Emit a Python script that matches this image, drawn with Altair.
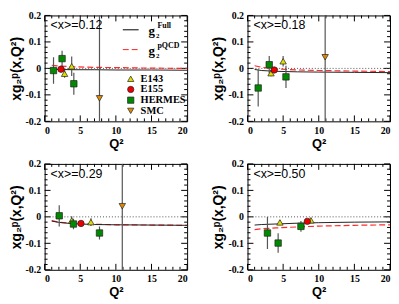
import altair as alt
import pandas as pd

W, H = 144, 107
GAP_X, GAP_Y = 61, 43
SERIF = "Liberation Serif"
SANS = "Liberation Sans, DejaVu Sans"

panel_labels = ["<x>=0.12", "<x>=0.18", "<x>=0.29", "<x>=0.50"]

curve_q2 = [1, 2, 4, 7, 10, 15, 20]
g2_full = [
    [-0.003, -0.004, -0.005, -0.005, -0.006, -0.006, -0.007],
    [-0.004, -0.008, -0.011, -0.013, -0.014, -0.015, -0.016],
    [-0.016, -0.021, -0.026, -0.029, -0.030, -0.031, -0.032],
    [-0.031, -0.029, -0.027, -0.024, -0.022, -0.020, -0.019],
]
g2_pqcd = [
    [0.012, 0.009, 0.006, 0.004, 0.003, 0.001, 0.000],
    [0.010, 0.004, -0.002, -0.006, -0.008, -0.010, -0.012],
    [-0.014, -0.020, -0.025, -0.028, -0.030, -0.031, -0.032],
    [-0.048, -0.045, -0.042, -0.038, -0.035, -0.032, -0.030],
]

experiments = ["E143", "E155", "HERMES", "SMC"]
exp_shapes = ["triangle-up", "circle", "square", "triangle-down"]
exp_colors = ["#dede00", "#ee0000", "#008a00", "#e08a00"]

e143_q2 = [[2.8, 3.8], [3.3, 5.0], [3.8, 6.5], [4.55, 8.9]]
e143_val = [[-0.020, 0.008], [-0.018, 0.027], [-0.014, -0.020], [-0.021, -0.013]]
e143_err = [[0.015, 0.037], [0.012, 0.020], [0.016, 0.015], [0.008, 0.008]]
e155_q2 = [[2.3], [3.75], [5.1], [8.4]]
e155_val = [[-0.003], [-0.006], [-0.025], [-0.017]]
e155_err = [[0.006], [0.006], [0.006], [0.006]]
hermes_q2 = [[1.25, 2.45, 4.1], [1.5, 3.05, 5.4], [2.05, 4.05, 7.7], [2.8, 4.3, 7.5]]
hermes_val = [[-0.008, 0.037, -0.058], [-0.074, 0.014, -0.032],
              [0.004, -0.027, -0.061], [-0.061, -0.099, -0.036]]
hermes_err = [[0.050, 0.030, 0.042], [0.070, 0.033, 0.042],
              [0.040, 0.020, 0.025], [0.060, 0.037, 0.020]]
smc_q2 = [[7.7], [10.9], [10.9], []]
smc_val = [[-0.113], [0.042], [0.040], []]
smc_err = [[0.45], [0.50], [0.50], []]

x_major = [0, 5, 10, 15, 20]
x_minor = [1, 2, 3, 4, 6, 7, 8, 9, 11, 12, 13, 14, 16, 17, 18, 19]
y_major = [-0.2, -0.1, 0, 0.1, 0.2]
y_minor = [-0.18, -0.16, -0.14, -0.12, -0.08, -0.06, -0.04, -0.02,
           0.02, 0.04, 0.06, 0.08, 0.12, 0.14, 0.16, 0.18]

Y_LABEL_EXPR = ("datum.value == 0 ? '0' : (datum.value < 0 ? '-' + format(-datum.value, '.1f')"
                " : format(datum.value, '.1f'))")


def X(field="q2"):
    return alt.X(field, type="quantitative",
                 scale=alt.Scale(domain=[0, 20], nice=False, zero=False),
                 axis=alt.Axis(values=x_major, title="Q²", format="d"))


def Y(field="val"):
    return alt.Y(field, type="quantitative",
                 scale=alt.Scale(domain=[-0.2, 0.2], nice=False, zero=False),
                 axis=alt.Axis(values=y_major, title="xg₂ᵖ(x,Q²)", labelExpr=Y_LABEL_EXPR))


dummy = pd.DataFrame({"a": [0]})


def tick_layers():
    out = []
    for vals, ln in [(x_major, 6), (x_minor, 3)]:
        d = pd.DataFrame({"q2": vals})
        out.append(alt.Chart(d).mark_rule(color="black", strokeWidth=1).encode(
            x=X(), y=alt.value(H), y2=alt.value(H - ln)))
        out.append(alt.Chart(d).mark_rule(color="black", strokeWidth=1).encode(
            x=X(), y=alt.value(0), y2=alt.value(ln)))
    for vals, ln in [(y_major, 6), (y_minor, 3)]:
        d = pd.DataFrame({"val": vals})
        out.append(alt.Chart(d).mark_rule(color="black", strokeWidth=1).encode(
            y=Y(), x=alt.value(0), x2=alt.value(ln)))
        out.append(alt.Chart(d).mark_rule(color="black", strokeWidth=1).encode(
            y=Y(), x=alt.value(W), x2=alt.value(W - ln)))
    return out


def legend_layers():
    out = []
    for i, (sup, color, dash) in enumerate([("Full", "black", None), ("pQCD", "#ff2020", [6, 3])]):
        yy = 14.5 + i * 20
        kw = dict(color=color, strokeWidth=1)
        if dash:
            kw["strokeDash"] = dash
        out.append(alt.Chart(dummy).mark_rule(**kw).encode(
            x=alt.value(79), x2=alt.value(95), y=alt.value(yy)))
        out.append(alt.Chart(dummy).mark_text(text="g", font=SERIF, fontWeight="bold", fontSize=13,
                                              align="left", baseline="alphabetic", color="black").encode(
            x=alt.value(105), y=alt.value(yy + 5)))
        out.append(alt.Chart(dummy).mark_text(text="2", font=SERIF, fontWeight="bold", fontSize=7,
                                              align="left", baseline="alphabetic", color="black").encode(
            x=alt.value(112.5), y=alt.value(yy + 8)))
        out.append(alt.Chart(dummy).mark_text(text=sup, font=SERIF, fontWeight="bold", fontSize=8,
                                              align="left", baseline="alphabetic", color="black").encode(
            x=alt.value(114), y=alt.value(yy - 1.5)))
    for i, (name, shp, col) in enumerate(zip(experiments, exp_shapes, exp_colors)):
        yy = 64 + i * 10.8
        out.append(alt.Chart(dummy).mark_point(filled=True, opacity=1, shape=shp, fill=col,
                                               stroke="#222", strokeWidth=0.7, size=40).encode(
            x=alt.value(87), y=alt.value(yy)))
        out.append(alt.Chart(dummy).mark_text(text=name, font=SERIF, fontWeight="bold", fontSize=10.5,
                                              align="left", baseline="middle", color="black").encode(
            x=alt.value(97), y=alt.value(yy)))
    return out


def panel(k):
    rows = []
    sets = [(e143_q2, e143_val, e143_err), (e155_q2, e155_val, e155_err),
            (hermes_q2, hermes_val, hermes_err), (smc_q2, smc_val, smc_err)]
    for name, (qs, vs, es) in zip(experiments, sets):
        for q, v, e in zip(qs[k], vs[k], es[k]):
            rows.append({"exp": name, "q2": q, "val": v, "lo": v - e, "hi": v + e})
    pts = pd.DataFrame(rows)
    full = pd.DataFrame({"q2": curve_q2, "val": g2_full[k]})
    pq = pd.DataFrame({"q2": curve_q2, "val": g2_pqcd[k]})
    zero = pd.DataFrame({"val": [0]})

    layers = tick_layers()
    layers.append(alt.Chart(zero).mark_rule(color="#555", strokeDash=[1, 2], strokeWidth=1).encode(y=Y()))
    layers.append(alt.Chart(pq).mark_line(color="#ff2a2a", strokeDash=[6, 3], strokeWidth=1.2,
                                          clip=True).encode(x=X(), y=Y()))
    layers.append(alt.Chart(full).mark_line(color="#222", strokeWidth=1, clip=True).encode(x=X(), y=Y()))
    layers.append(alt.Chart(pts).mark_rule(color="#555", strokeWidth=1.2, clip=True).encode(
        x=X(), y=Y("lo"), y2="hi"))
    layers.append(alt.Chart(pts).mark_point(filled=True, opacity=1, stroke="#222", strokeWidth=0.7,
                                            size=42).encode(
        x=X(), y=Y(),
        shape=alt.Shape("exp:N", scale=alt.Scale(domain=experiments, range=exp_shapes), legend=None),
        fill=alt.Fill("exp:N", scale=alt.Scale(domain=experiments, range=exp_colors), legend=None)))
    layers.append(alt.Chart(dummy).mark_text(text=panel_labels[k], font=SANS, fontSize=12.5,
                                             align="left", baseline="middle", color="black").encode(
        x=alt.value(6), y=alt.value(10)))
    if k == 0:
        layers += legend_layers()
    return alt.layer(*layers).properties(width=W, height=H)


chart = alt.concat(
    panel(0), panel(1), panel(2), panel(3),
    columns=2,
    spacing=alt.RowColnumber(row=GAP_Y, column=GAP_X),
    bounds="flush",
).properties(
    padding=0, background="white"
).configure_view(stroke="black", strokeWidth=1).configure_axis(
    labelFont=SERIF, labelFontWeight="bold", labelFontSize=10, labelColor="black",
    ticks=False, domain=False, grid=False, labelPadding=4,
    titleFont=SANS, titleFontWeight="bold", titleFontSize=14, titleColor="black",
).configure_axisY(titlePadding=2).configure_axisX(titlePadding=2, titleFontSize=13)

chart.save("out.html", embed_options={"renderer": "svg", "actions": False})
